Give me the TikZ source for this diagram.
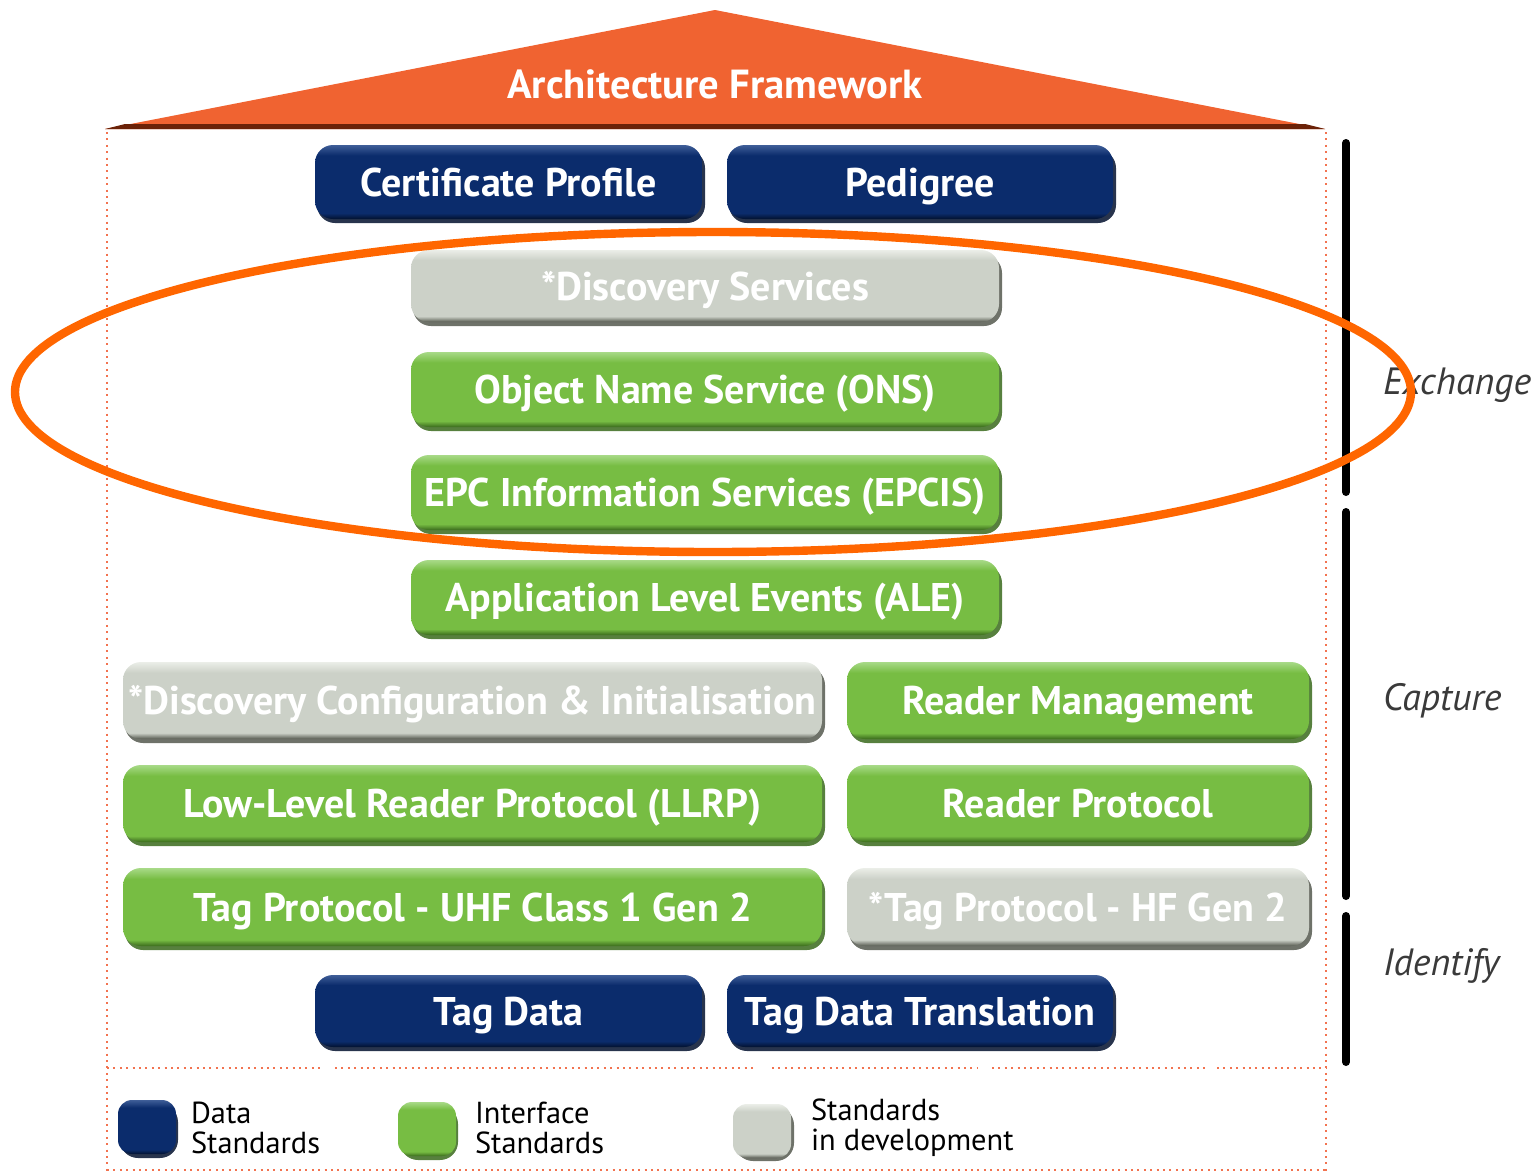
\documentclass[tikz,border=0pt]{standalone}
\usepackage{fontspec}
\setmainfont{PT Sans}
\usetikzlibrary{calc}
\definecolor{navymain}{HTML}{0B2C6C}
\definecolor{navydark}{HTML}{02112E}
\definecolor{navyhi}{HTML}{3F5E98}
\definecolor{greenmain}{HTML}{77BD43}
\definecolor{greendark}{HTML}{3A6A1C}
\definecolor{greenhi}{HTML}{A8DA88}
\definecolor{graymain}{HTML}{CCD1C8}
\definecolor{graydark}{HTML}{55594F}
\definecolor{grayhi}{HTML}{EBEEE8}
\definecolor{roofor}{HTML}{F06331}
\definecolor{roofdark}{HTML}{6B2208}
\definecolor{ringor}{HTML}{FF6600}
\definecolor{dotor}{HTML}{F27350}
\definecolor{sidegray}{HTML}{3A3A3A}
\pgfdeclareverticalshading{navysh}{100bp}{color(0bp)=(navydark); color(25bp)=(navydark); color(29bp)=(navymain); color(68bp)=(navymain); color(75bp)=(navyhi); color(100bp)=(navyhi)}
\pgfdeclareverticalshading{greensh}{100bp}{color(0bp)=(greendark); color(25bp)=(greendark); color(29bp)=(greenmain); color(68bp)=(greenmain); color(75bp)=(greenhi); color(100bp)=(greenhi)}
\pgfdeclareverticalshading{graysh}{100bp}{color(0bp)=(graydark); color(25bp)=(graydark); color(29bp)=(graymain); color(68bp)=(graymain); color(75bp)=(grayhi); color(100bp)=(grayhi)}
\tikzset{
  stdbox/.style={rounded corners=9pt, shading=#1sh, text=white, font=\fontsize{20}{22}\selectfont\bfseries, inner sep=0pt, text height=14pt, text depth=0pt},
  shadowbox/.style={fill=#1dark, rounded corners=9pt, opacity=0.85},
  dotline/.style={dotor, line width=1pt, dash pattern=on 1pt off 2.2pt},
  sidebar/.style={black, line width=4pt, line cap=round},
  sidelabel/.style={anchor=west, text=sidegray, font=\fontsize{19}{21}\selectfont\itshape},
  legtext/.style={anchor=west, align=left, text=black, font=\fontsize{15.2}{15}\selectfont},
  legbox/.style={rounded corners=7pt, shading=#1sh},
}
\newcommand\stdnode[7]{%
  \fill[shadowbox=#6] (#2+2,#3+5) rectangle (#4+3,#5+4);
  \pgfmathsetmacro\bw{(#4-#2)*0.5}\pgfmathsetmacro\bh{(#5-#3)*0.5}%
  \node[stdbox=#6, minimum width=\bw pt, minimum height=\bh pt] (#1) at ({(#2+#4)/2},{(#3+#5)/2}) {#7};
}
\begin{document}
\begin{tikzpicture}[x=0.5pt,y=-0.5pt]
\useasboundingbox (0,0) rectangle (1536,1173);
% roof
\fill[roofor] (105,129) -- (715,10) -- (1325,129) -- cycle;
\fill[roofdark] (105,129) -- (125,124) -- (1305,124) -- (1325,129) -- cycle;
\node[text=white, font=\fontsize{20.3}{22}\selectfont\bfseries] (roof) at (715,84) {Architecture Framework};
% dotted frame
\draw[dotline] (107,132) -- (107,1173);
\draw[dotline] (1326,132) -- (1326,1173);
\draw[dotline] (107,1068) -- (320,1068);
\draw[dotline] (335,1068) -- (757,1068);
\draw[dotline] (772,1068) -- (977,1068);
\draw[dotline] (992,1068) -- (1205,1068);
\draw[dotline] (1217,1068) -- (1326,1068);
\draw[dotline] (107,1170) -- (1326,1170);
% boxes
\stdnode{cert}{315}{145}{702}{219}{navy}{Certificate Profile}
\stdnode{ped}{727}{145}{1113}{219}{navy}{Pedigree}
\stdnode{disc}{411}{250}{999}{322}{gray}{*Discovery Services}
\stdnode{ons}{411}{352}{999}{427}{green}{Object Name Service (ONS)}
\stdnode{epcis}{411}{455}{999}{530}{green}{EPC Information Services (EPCIS)}
\stdnode{ale}{411}{560}{999}{635}{green}{Application Level Events (ALE)}
\stdnode{dci}{123}{662}{822}{739}{gray}{*Discovery Configuration \& Initialisation}
\stdnode{rm}{847}{662}{1309}{739}{green}{Reader Management}
\stdnode{llrp}{123}{765}{822}{842}{green}{Low-Level Reader Protocol (LLRP)}
\stdnode{rp}{847}{765}{1309}{842}{green}{Reader Protocol}
\stdnode{uhf}{123}{868}{822}{946}{green}{Tag Protocol - UHF Class 1 Gen 2}
\stdnode{hf}{847}{868}{1309}{946}{gray}{*Tag Protocol - HF Gen 2}
\stdnode{td}{315}{975}{702}{1047}{navy}{Tag Data}
\stdnode{tdt}{727}{975}{1113}{1047}{navy}{Tag Data Translation}
% side bars
\coordinate (b1t) at (1346,143); \coordinate (b1b) at (1346,492);
\coordinate (b2t) at (1346,512); \coordinate (b2b) at (1346,896);
\coordinate (b3t) at (1346,916); \coordinate (b3b) at (1346,1062);
\draw[sidebar] (b1t) -- (b1b);
\draw[sidebar] (b2t) -- (b2b);
\draw[sidebar] (b3t) -- (b3b);
\node[sidelabel] (exch) at (1376,385) {Exchange};
\node[sidelabel] (capt) at (1376,701) {Capture};
\node[sidelabel] (iden) at (1376,966) {Identify};
% legend
\fill[shadowbox=navy] (120,1104) rectangle (178,1158);
\node[legbox=navy, minimum width=29pt, minimum height=27pt, inner sep=0pt] (lnavy) at (147,1127) {};
\node[legtext] (lnavyt) at (184,1128) {Data\\Standards};
\fill[shadowbox=green] (400,1106) rectangle (458,1160);
\node[legbox=green, minimum width=29pt, minimum height=27pt, inner sep=0pt] (lgreen) at (427,1129) {};
\node[legtext] (lgreent) at (468,1128) {Interface\\Standards};
\fill[shadowbox=gray] (735,1107) rectangle (794,1161);
\node[legbox=gray, minimum width=29pt, minimum height=27pt, inner sep=0pt] (lgray) at (762,1131) {};
\node[legtext] (lgrayt) at (804,1128) {Standards\\in development};
% highlight ellipse
\draw[ringor, line width=4.2pt] (713,392) ellipse [x radius=349pt, y radius=80pt];
\end{tikzpicture}
\end{document}
